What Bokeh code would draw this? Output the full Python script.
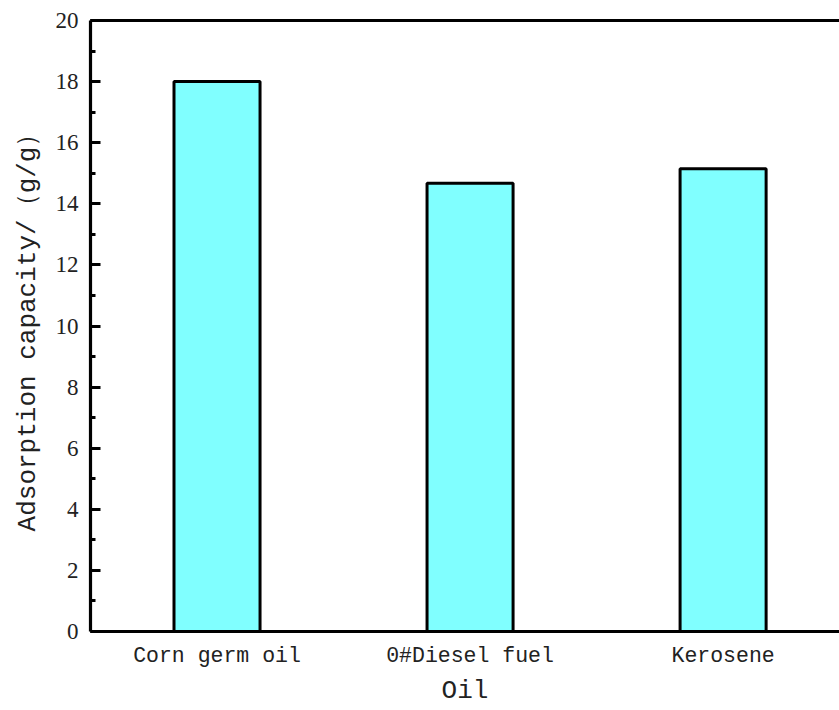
from bokeh.plotting import figure
from bokeh.models import Range1d, FixedTicker, SingleIntervalTicker, LinearAxis, ColumnDataSource
from bokeh.embed import file_html
from bokeh.resources import INLINE

categories = ["Corn germ oil", "0#Diesel fuel", "Kerosene"]
positions = [1, 2, 3]
capacity = [18.0, 14.67, 15.15]

src = ColumnDataSource(dict(x=positions, top=capacity))

p = figure(width=839, height=708, output_backend="svg", toolbar_location=None,
           x_range=Range1d(0.5, 3.46), y_range=Range1d(0, 20),
           min_border_left=90, min_border_right=0, min_border_top=20, min_border_bottom=10)
p.outline_line_color = None
p.xgrid.visible = False
p.ygrid.visible = False

p.vbar(x="x", top="top", width=0.34, bottom=0, source=src,
       fill_color="#80FFFF", line_color="black", line_width=3)

LW = 3.2
ya = p.yaxis[0]
ya.ticker = SingleIntervalTicker(interval=2, num_minor_ticks=2)
ya.axis_line_width = LW
ya.major_tick_line_width = 3
ya.minor_tick_line_width = 3
ya.major_tick_in = 10
ya.major_tick_out = 0
ya.minor_tick_in = 5
ya.minor_tick_out = 0
ya.major_label_text_font = "Liberation Serif"
ya.major_label_text_font_size = "23px"
ya.major_label_text_color = "#222222"
ya.major_label_standoff = 12
ya.axis_label = "Adsorption capacity/（g/g）"
ya.axis_label_text_font = "Liberation Mono"
ya.axis_label_text_font_style = "normal"
ya.axis_label_text_font_size = "26px"
ya.axis_label_text_color = "#222222"
ya.axis_label_standoff = 10

xa = p.xaxis[0]
xa.ticker = FixedTicker(ticks=positions)
xa.major_label_overrides = {pos: lab for pos, lab in zip(positions, categories)}
xa.axis_line_width = LW
xa.major_tick_in = 0
xa.major_tick_out = 0
xa.minor_tick_line_color = None
xa.major_label_text_font = "Liberation Mono"
xa.major_label_text_font_size = "21.5px"
xa.major_label_text_color = "#222222"
xa.major_label_standoff = 12
xa.axis_label = "Oil"
xa.axis_label_text_font = "Liberation Mono"
xa.axis_label_text_font_style = "normal"
xa.axis_label_text_font_size = "26px"
xa.axis_label_text_color = "#222222"
xa.axis_label_standoff = 5

top = LinearAxis(axis_line_width=LW, major_tick_line_color=None, minor_tick_line_color=None,
                 major_label_text_font_size="0px", ticker=FixedTicker(ticks=[]))
p.add_layout(top, "above")

open("out.html", "w").write(file_html(p, INLINE))
